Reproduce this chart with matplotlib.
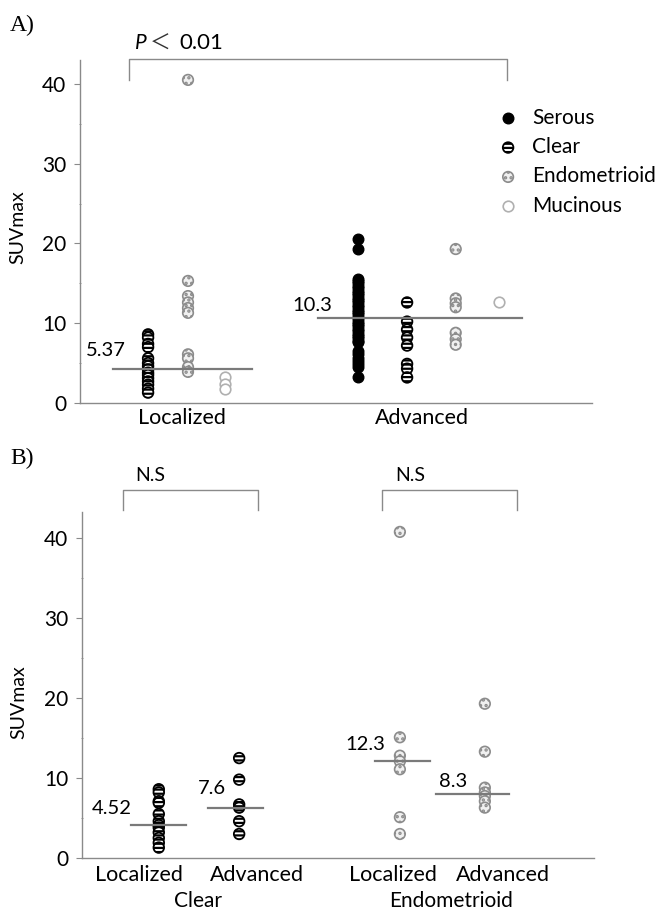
import matplotlib
matplotlib.use("Agg")
import matplotlib.pyplot as plt

plt.rcParams['font.family'] = ['Lato', 'DejaVu Sans']
plt.rcParams['hatch.linewidth'] = 1.6

# ---- data (SUVmax values) ----
histotypes = ['Serous', 'Clear', 'Endometrioid', 'Mucinous']
stages = ['Localized', 'Advanced']

# panel A
a_localized = {
    'Serous': [],
    'Clear': [8.6, 8.2, 7.4, 7.0, 5.6, 5.0, 4.6, 4.2, 3.8, 3.5, 3.1, 2.7, 2.3, 1.8, 1.3],
    'Endometrioid': [40.5, 15.3, 13.4, 12.6, 11.9, 11.3, 6.1, 5.6, 4.5, 3.9],
    'Mucinous': [3.3, 2.4, 1.8],
}
a_advanced = {
    'Serous': [20.6, 19.3, 15.6, 15.3, 15.0, 14.7, 14.4, 14.1, 13.8, 13.5, 13.2, 12.9,
               12.6, 12.3, 12.0, 11.7, 11.4, 11.1, 10.8, 10.5, 10.2, 9.9, 9.6, 9.3,
               9.0, 8.7, 8.4, 8.1, 7.8, 7.6, 6.5, 6.1, 5.7, 5.3, 4.9, 4.5, 3.2],
    'Clear': [12.6, 10.2, 9.2, 8.2, 7.2, 4.9, 4.3, 3.2],
    'Endometrioid': [19.3, 13.1, 12.5, 12.0, 8.8, 8.0, 7.3],
    'Mucinous': [12.7],
}
a_median_line = [4.3, 10.6]
a_median_text = ['5.37', '10.3']

# panel B
b_groups = ['Clear', 'Endometrioid']
b_clear_localized = [8.6, 8.2, 7.1, 6.9, 5.5, 4.6, 4.1, 3.8, 3.2, 2.5, 1.9, 1.3]
b_clear_advanced = [12.5, 9.8, 6.7, 6.3, 4.6, 3.0]
b_endo_localized = [40.8, 15.1, 12.8, 12.1, 11.1, 5.1, 3.0]
b_endo_advanced = [19.3, 13.3, 8.8, 8.2, 7.75, 7.1, 6.3]
b_median_line = [4.1, 6.3, 12.1, 8.0]
b_median_text = ['4.52', '7.6', '12.3', '8.3']

# ---- marker styles ----
styles = {
    'Serous': dict(facecolor='black', edgecolor='black', hatch=None, linewidths=1.0),
    'Clear': dict(facecolor='white', edgecolor='black', hatch='----', linewidths=1.3),
    'Endometrioid': dict(facecolor='#f0f0f0', edgecolor='#8c8c8c', hatch='...', linewidths=1.2),
    'Mucinous': dict(facecolor='white', edgecolor='#b0b0b0', hatch=None, linewidths=1.2),
}
MS = 58
GRAY = '#8a8a8a'


def dots(ax, x, vals, kind):
    return ax.scatter([x] * len(vals), vals, s=MS, zorder=3, **styles[kind])


def style_axes(ax, top):
    for side in ['top', 'right']:
        ax.spines[side].set_visible(False)
    for side in ['left', 'bottom']:
        ax.spines[side].set_color(GRAY)
        ax.spines[side].set_linewidth(1.0)
    ax.set_xlim(0, 10)
    ax.set_ylim(0, top)
    ax.set_yticks([0, 10, 20, 30, 40])
    ax.set_yticks([5, 15, 25, 35], minor=True)
    ax.tick_params(axis='y', which='major', length=4, color=GRAY, labelsize=15, pad=6)
    ax.tick_params(axis='y', which='minor', length=2, color=GRAY, direction='inout')
    ax.tick_params(axis='x', length=0, labelsize=15.5)
    ax.set_ylabel('SUVmax', fontsize=14)


def bracket(ax, x0, x1, ytop, yleg):
    ax.plot([x0, x0, x1, x1], [yleg, ytop, ytop, yleg], color=GRAY, lw=1.0,
            clip_on=False, zorder=1)


fig = plt.figure(figsize=(6.7, 9.14), dpi=100)

# ================= panel A =================
axA = fig.add_axes([0.1194, 0.5591, 0.764, 0.3753])
style_axes(axA, 43)
axA.yaxis.set_label_coords(-0.105, 0.513)

col_x = {
    'Localized': {'Serous': 0.36, 'Clear': 1.33, 'Endometrioid': 2.11, 'Mucinous': 2.83},
    'Advanced': {'Serous': 5.43, 'Clear': 6.39, 'Endometrioid': 7.34, 'Mucinous': 8.18},
}
line_span_a = [(0.64, 3.36), (4.65, 8.63)]
text_pos_a = [(0.51, 6.6), (4.53, 12.2)]

legend_handles = {}
for stage, data in zip(stages, [a_localized, a_advanced]):
    for kind in histotypes:
        if data[kind]:
            legend_handles[kind] = dots(axA, col_x[stage][kind], data[kind], kind)

for (x0, x1), y, (tx, ty), t in zip(line_span_a, a_median_line, text_pos_a, a_median_text):
    axA.plot([x0, x1], [y, y], color='#7a7a7a', lw=1.6, zorder=4)
    axA.text(tx, ty, t, fontsize=14.5, ha='center', va='center')

axA.set_xticks([1.99, 6.68])
axA.set_xticklabels(stages)

bracket(axA, 0.96, 8.34, 43.1, 40.5)
axA.text(1.07, 45.1, 'P', fontsize=15, style='italic', ha='left', va='center')
axA.text(1.36, 45.0, '\uff1c', fontsize=15, ha='left', va='center', color='#333333',
         family=['Noto Sans CJK JP', 'DejaVu Sans'])
axA.text(1.95, 45.1, '0.01', fontsize=16, ha='left', va='center')

axA.legend([legend_handles[k] for k in histotypes], histotypes,
           loc='upper left', bbox_to_anchor=(0.816, 0.861),
           frameon=False, borderpad=0, handlelength=1.0, handletextpad=0.65,
           labelspacing=0.45, fontsize=15, borderaxespad=0, scatterpoints=1)

fig.text(0.015, 0.972, 'A)', fontsize=17, family=['Liberation Serif'], va='center')

# ================= panel B =================
axB = fig.add_axes([0.1224, 0.0613, 0.764, 0.3786])
style_axes(axB, 43.3)
axB.yaxis.set_label_coords(-0.107, 0.45)

b_x = [1.50, 3.07, 6.21, 7.87]
b_sets = [b_clear_localized, b_clear_advanced, b_endo_localized, b_endo_advanced]
b_kind = ['Clear', 'Clear', 'Endometrioid', 'Endometrioid']
line_span_b = [(0.96, 2.03), (2.46, 3.54), (5.72, 6.80), (6.91, 8.34)]
text_pos_b = [(0.59, 6.25), (2.54, 8.75), (5.53, 14.25), (7.25, 9.6)]

for x, vals, kind in zip(b_x, b_sets, b_kind):
    dots(axB, x, vals, kind)

for (x0, x1), y, (tx, ty), t in zip(line_span_b, b_median_line, text_pos_b, b_median_text):
    axB.plot([x0, x1], [y, y], color='#7a7a7a', lw=1.6, zorder=4)
    axB.text(tx, ty, t, fontsize=14.5, ha='center', va='center')

axB.set_xticks([1.11, 3.42, 6.07, 8.22])
axB.set_xticklabels(stages * 2)
axB.tick_params(axis='x', pad=5)
for gx, g in zip([2.27, 7.21], b_groups):
    axB.text(gx, -5.4, g, fontsize=15, ha='center', va='center')

bracket(axB, 0.80, 3.44, 46.1, 43.5)
bracket(axB, 5.86, 8.50, 46.1, 43.5)
axB.text(1.33, 47.9, 'N.S', fontsize=14, ha='center', va='center')
axB.text(6.41, 47.9, 'N.S', fontsize=14, ha='center', va='center')

fig.text(0.015, 0.498, 'B)', fontsize=17, family=['Liberation Serif'], va='center')

fig.savefig('out.png', dpi=100, facecolor='white')
